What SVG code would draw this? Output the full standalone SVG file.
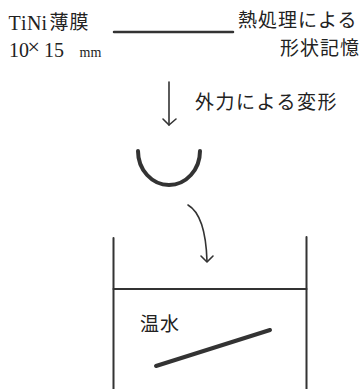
<svg xmlns="http://www.w3.org/2000/svg" width="363" height="389" viewBox="0 0 363 389">
<style>
.t{font-family:"Noto Sans CJK JP","Noto Sans",sans-serif;font-size:19px;letter-spacing:1px;fill:#222}
.m{font-family:"Liberation Serif",serif;font-size:20px;fill:#222}
.ln{stroke:#333;fill:none;stroke-linecap:round}
.ar{stroke:#333;fill:none;stroke-width:1.6;stroke-linecap:round;stroke-linejoin:round}
</style>
<rect width="363" height="389" fill="#fff"/>
<g id="film-label">
<text class="m" y="30"><tspan x="8.5">T</tspan><tspan x="21">i</tspan><tspan x="27">N</tspan><tspan x="41.5">i</tspan></text>
<text class="t" x="49.5" y="29" style="font-size:19px">薄膜</text>
<text class="m" y="57"><tspan x="9">10</tspan><tspan x="27.5" style="font-size:22px" dy="-3">×</tspan><tspan x="44" dy="3">15</tspan><tspan x="79.5" style="font-size:14px">mm</tspan></text>
</g>
<g id="flat-film">
<line class="ln" x1="114" y1="32" x2="233" y2="32" stroke-width="2.5"/>
</g>
<g id="heat-label">
<text class="t" x="238" y="27">熱処理による</text>
<text class="t" x="280" y="55">形状記憶</text>
</g>
<g id="deform-label">
<text class="t" x="195" y="109" style="letter-spacing:1.5px">外力による変形</text>
</g>
<g id="bent-film">
<path class="ln" d="M138,151 A31,34 0 0 0 200,151" stroke-width="4"/>
</g>
<g id="bath">
<line class="ln" x1="113.5" y1="238" x2="113.5" y2="389" stroke-width="2"/>
<line class="ln" x1="306.5" y1="237" x2="306.5" y2="389" stroke-width="2"/>
<line class="ln" x1="113.5" y1="289" x2="306.5" y2="289" stroke-width="2"/>
<text class="t" x="140" y="331">温水</text>
<line class="ln" x1="156" y1="366" x2="270" y2="330" stroke-width="4"/>
</g>
<g id="connectors">
<path class="ar" d="M169,82 L169,125"/>
<path class="ar" d="M163,119 L169,125 L176,119"/>
<path class="ar" d="M188,205 C200,212 206,230 207,261"/>
<path class="ar" d="M201,256 L207,262 L213,256"/>
</g>
</svg>
